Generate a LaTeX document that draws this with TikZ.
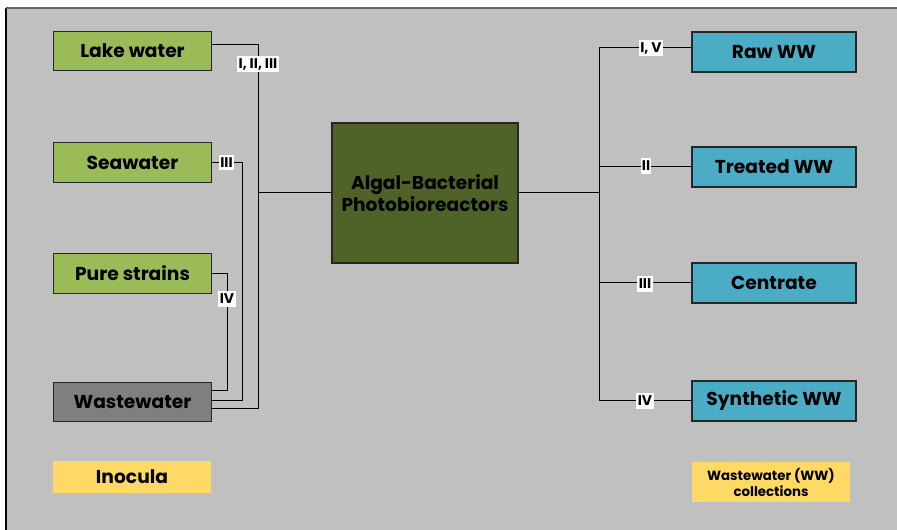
\documentclass[tikz,border=0pt]{standalone}
\usepackage{fontspec}
\setmainfont{Poppins}
\definecolor{panelgray}{HTML}{C0C0C0}
\definecolor{inoc}{HTML}{9BBB59}
\definecolor{wwblue}{HTML}{4BACC6}
\definecolor{olive}{HTML}{4F6228}
\definecolor{wgray}{HTML}{7F7F7F}
\definecolor{keyyellow}{HTML}{FFD966}
\definecolor{edge}{HTML}{262626}
\begin{document}
\begin{tikzpicture}[x=0.75pt,y=-0.75pt,
  box/.style={draw=edge, line width=0.8pt, inner sep=0pt, align=center,
    font=\fontsize{14}{16}\selectfont\bfseries},
  srcbox/.style={box, fill=inoc, minimum width=119pt, minimum height=29.5pt},
  wwbox/.style={box, fill=wwblue, minimum width=123pt, minimum height=30pt},
  keybox/.style={fill=keyyellow, inner sep=0pt, align=center,
    font=\fontsize{14}{16}\selectfont\bfseries},
  conn/.style={draw=black, line width=0.75pt},
  lab/.style={fill=white, inner xsep=1pt, inner ysep=2pt,
    font=\fontsize{10.5}{12}\selectfont\bfseries}]
\useasboundingbox (0,0) rectangle (897,530);
\fill[white] (0,0) rectangle (897,530);
\begin{scope}
  \clip (0,0) rectangle (897,530);
  \fill[panelgray] (6,8) rectangle (905,540);
  \draw[line width=1.2pt, black] (6,540) -- (6,8);
  \draw[line width=0.9pt, black!60] (6,8) -- (905,8);
\end{scope}

% inocula
\node[srcbox] (lake)  at (132.5,51)    {Lake water};
\node[srcbox] (sea)   at (132.5,162.5) {Seawater};
\node[srcbox] (pure)  at (132.5,273.5) {Pure strains};
\node[srcbox, fill=wgray] (waste) at (132.5,402) {Wastewater};

% reactor
\node[box, fill=olive, minimum width=139.5pt, minimum height=105pt] (bio) at (425,193)
  {Algal-Bacterial\\Photobioreactors};

% wastewater collections
\node[wwbox] (raw)   at (774,52)  {Raw WW};
\node[wwbox] (treat) at (774,167) {Treated WW};
\node[wwbox] (cent)  at (774,283) {Centrate};
\node[wwbox] (syn)   at (774,401) {Synthetic WW};

% legend
\node[keybox, minimum width=118.5pt, minimum height=24pt] (keyin) at (132,477) {Inocula};
\node[keybox, minimum width=118.5pt, minimum height=30pt,
  font=\fontsize{10}{12}\selectfont\bfseries] (keyww) at (771,482)
  {Wastewater (WW)\\collections};

% left buses
\coordinate (busA) at (258,193);
\coordinate (busB) at (242,0);
\coordinate (busC) at (227,0);
\coordinate (w1) at ([yshift=8.25pt]waste.east);
\coordinate (w2) at ([yshift=0.75pt]waste.east);
\coordinate (w3) at ([yshift=-5.25pt]waste.east);
\coordinate (lk) at ([yshift=4.5pt]lake.east);

\draw[conn] (lk) -| (busA |- w3) -- (w3);
\draw[conn] (busA) -- (bio.west);
\draw[conn] (sea.east) -| (busB |- w2) -- (w2);
\draw[conn] (pure.east) -| (busC |- w1) -- (w1);

\node[lab] (l1) at (258,64)    {I, II, III};
\node[lab] (l2) at (226.5,162.5) {III};
\node[lab] (l3) at (227,299)   {IV};

% right bus
\coordinate (busR) at (599,193);
\coordinate (rw) at ([yshift=3pt]raw.west);
\draw[conn] (bio.east) -- (busR);
\draw[conn] (rw) -| (busR |- syn.west) -- (syn.west);
\draw[conn] (treat.west) -- (treat.west -| busR);
\draw[conn] (cent.west) -- (cent.west -| busR);

\node[lab] (r1) at (651,48)  {I, V};
\node[lab] (r2) at (646,166) {II};
\node[lab] (r3) at (645,284) {III};
\node[lab] (r4) at (645,401) {IV};
\end{tikzpicture}
\end{document}
